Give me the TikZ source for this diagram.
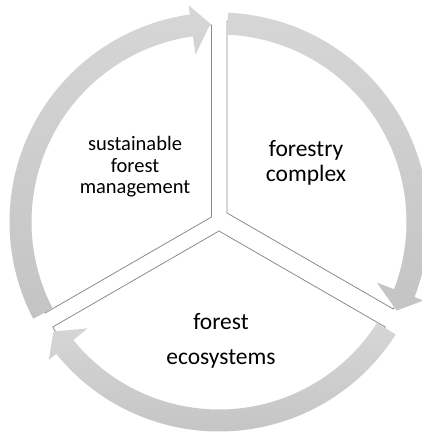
\documentclass[tikz,border=0pt]{standalone}
\usepackage{fontspec}
\setmainfont{Carlito}
\definecolor{ringhi}{RGB}{214,214,214}
\definecolor{ringlo}{RGB}{196,196,196}
\begin{document}
\begin{tikzpicture}[
      x=1pt, y=1pt,
      sector/.style={
        draw=black!45,
        fill=white,
        line width=0.8pt
      },
      ringarrow/.style={top color=ringhi, bottom color=ringlo, draw=none},
      caption/.style={align=center, inner sep=0pt, text=black}
    ]
      \useasboundingbox (0,0) rectangle (421,434);

      \coordinate (hub) at (219,212);
      \coordinate (apexright) at (227,221);
      \coordinate (apexleft) at (211.5,217);
      \coordinate (apexbottom) at (219,203);

      % pie segments
      \draw[sector] (apexright) -- ++(90:192pt) arc[start angle=90, end angle=-30, radius=192pt] -- cycle;
      \draw[sector] (apexleft) -- ++(90:192pt) arc[start angle=90, end angle=210, radius=192pt] -- cycle;
      \draw[sector] (apexbottom) -- ++(210:192pt) arc[start angle=210, end angle=330, radius=192pt] -- cycle;

      % circular arrows
      \begin{scope}[shift={(hub)}]
        \path[ringarrow] (87.5:187.5pt) arc[start angle=87.5, end angle=-21, radius=187.5pt]
          -- (-21:169pt) -- (-26.5:198.5pt) -- (-21:219pt) -- (-21:209.5pt)
          arc[start angle=-21, end angle=87.5, radius=209.5pt] -- cycle;
        \path[ringarrow] (-32.5:187.5pt) arc[start angle=-32.5, end angle=-141, radius=187.5pt]
          -- (-141:169pt) -- (-146.5:198.5pt) -- (-141:219pt) -- (-141:209.5pt)
          arc[start angle=-141, end angle=-32.5, radius=209.5pt] -- cycle;
        \path[ringarrow] (207.5:187.5pt) arc[start angle=207.5, end angle=98, radius=187.5pt]
          -- (98:169pt) -- (92.5:198.5pt) -- (98:219pt) -- (98:209.5pt)
          arc[start angle=98, end angle=207.5, radius=209.5pt] -- cycle;
      \end{scope}

      \node[caption, font=\fontsize{20.5}{21.5}\selectfont] (management) at (135,267) {sustainable\\forest\\management};
      \node[caption, font=\fontsize{23.5}{25}\selectfont] (complex) at (306,271.5) {forestry\\complex};
      \node[caption, font=\fontsize{23.5}{35}\selectfont] (ecosystems) at (221,93.5) {forest\\ecosystems};
    \end{tikzpicture}
\end{document}
